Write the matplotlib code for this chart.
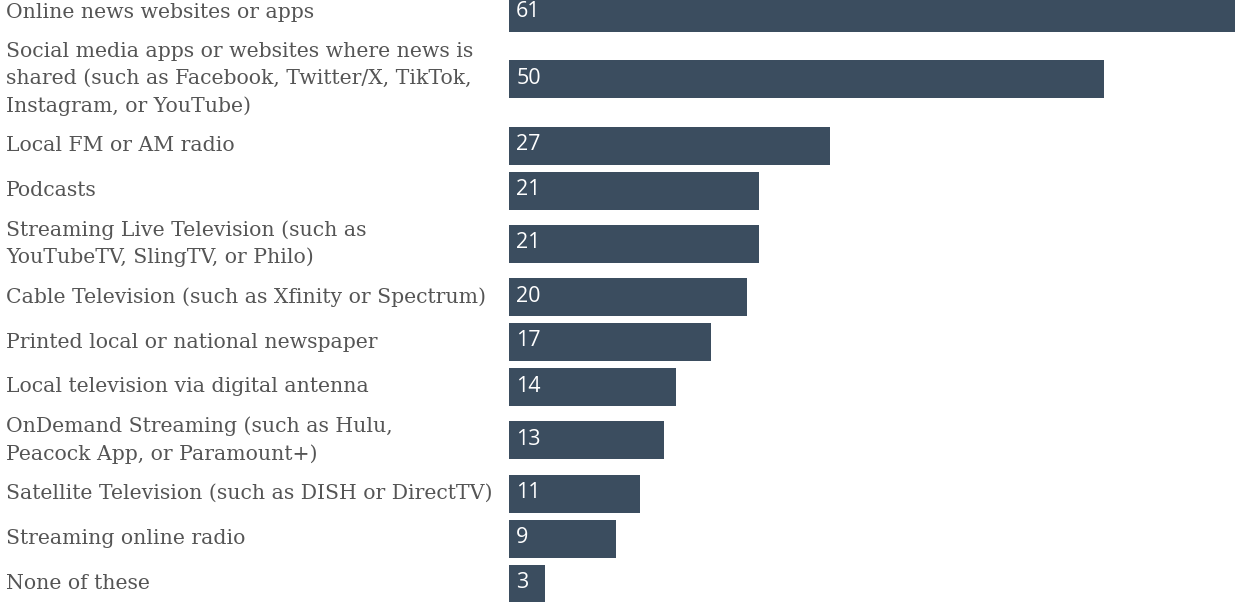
import matplotlib.pyplot as plt
import matplotlib.transforms as mtransforms

categories = [
    "Online news websites or apps",
    "Social media apps or websites where news is\nshared (such as Facebook, Twitter/X, TikTok,\nInstagram, or YouTube)",
    "Local FM or AM radio",
    "Podcasts",
    "Streaming Live Television (such as\nYouTubeTV, SlingTV, or Philo)",
    "Cable Television (such as Xfinity or Spectrum)",
    "Printed local or national newspaper",
    "Local television via digital antenna",
    "OnDemand Streaming (such as Hulu,\nPeacock App, or Paramount+)",
    "Satellite Television (such as DISH or DirectTV)",
    "Streaming online radio",
    "None of these",
]
values = [61, 50, 27, 21, 21, 20, 17, 14, 13, 11, 9, 3]

bar_color = "#3b4d5f"
label_color = "#555555"

# row heights in pixels: taller rows for wrapped labels
line_h, pad, bar_h = 26.5, 8.5, 38
centers = []
top = -10
for cat in categories:
    n = cat.count("\n") + 1
    slot = max(45, n * line_h + pad)
    centers.append(top + slot / 2)
    top += slot

W, H = 1235, 602
fig = plt.figure(figsize=(W / 100, H / 100), dpi=100)
ax = fig.add_axes([509 / W, 0, 1 - 509 / W, 1])
ax.barh(centers, values, height=bar_h, color=bar_color)
ax.set_xlim(0, max(values))
ax.set_ylim(H, 0)
ax.axis("off")

trans = mtransforms.blended_transform_factory(fig.transFigure, ax.transData)
for y, cat, v in zip(centers, categories, values):
    ax.text(6 / W, y, cat, transform=trans, ha="left", va="center",
            fontsize=14.7, family="DejaVu Serif", color=label_color,
            linespacing=1.52)
    ax.text(0.6, y - 1, str(v), ha="left", va="center", fontsize=15.5,
            family="Open Sans", color="white")

fig.savefig("out.png", dpi=100)
